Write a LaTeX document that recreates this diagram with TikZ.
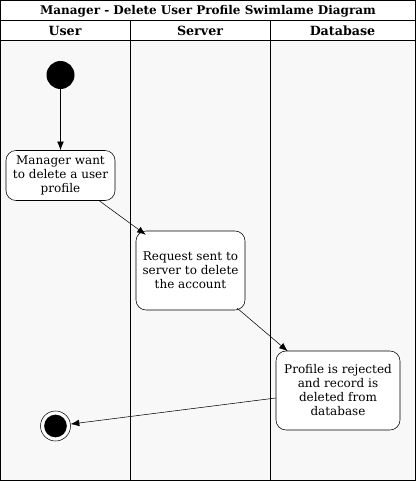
\documentclass[tikz,border=0pt]{standalone}
\usepackage{fontspec}
\setmainfont{DejaVu Serif}
\usetikzlibrary{calc,arrows.meta}
\definecolor{LN}{HTML}{F8F8F8}

\begin{document}
\begin{tikzpicture}[x=0.75pt, y=-0.75pt, >={Latex[length=6.5pt,width=5pt]},
    act/.style={draw, rounded corners=7.5pt, fill=white, align=center, inner sep=1pt,
      font=\fontsize{9}{10.5}\selectfont},
    head/.style={font=\bfseries\fontsize{9.5}{11}\selectfont}]
    \useasboundingbox (0,0) rectangle (416,481);
    \fill[LN] (0.5,40) rectangle (415.5,480.5);
    \draw (0.5,0.5) rectangle (415.5,480.5);
    \draw (0.5,20) -- (415.5,20);
    \draw (0.5,40) -- (415.5,40);
    \draw (130,20) -- (130,480.5);
    \draw (270,20) -- (270,480.5);
    \node[head, font=\bfseries\fontsize{9}{10}\selectfont] (title) at (208,11) {Manager - Delete User Profile Swimlame Diagram};
    \node[head] (user) at (65,30.5) {User};
    \node[head] (server) at (200,30.5) {Server};
    \node[head] (db) at (342.5,30.5) {Database};
    % activities
    \node[circle, fill=black, minimum size=21pt, inner sep=0] (start) at (60.5,75) {};
    \node[act, minimum width=81.75pt, minimum height=37.5pt] (want) at (60.5,175.5) {Manager want\\to delete a user\\profile};
    \node[act, minimum width=81.75pt, minimum height=59.25pt] (req) at (190.5,270.5) {Request sent to\\server to delete\\the account};
    \node[act, minimum width=93pt, minimum height=59.25pt] (rej) at (338,390.5) {Profile is rejected\\and record is\\deleted from\\database};
    \node[circle, draw, fill=white, minimum size=22.5pt, inner sep=0] (stop) at (55.5,426) {};
    \node[circle, fill=black, minimum size=17pt, inner sep=0] (stopin) at (stop) {};
    \draw[->] (start) -- (want);
    \draw[->] ($(want.south east)+(-16,0)$) -- ($(req.north west)+(10,4)$);
    \draw[->] ($(req.south east)+(-8,-2)$) -- ($(rej.north west)+(12,0.5)$);
    \draw[->] ($(rej.west)+(0,7.5)$) -- (stop);
\end{tikzpicture}
\end{document}
